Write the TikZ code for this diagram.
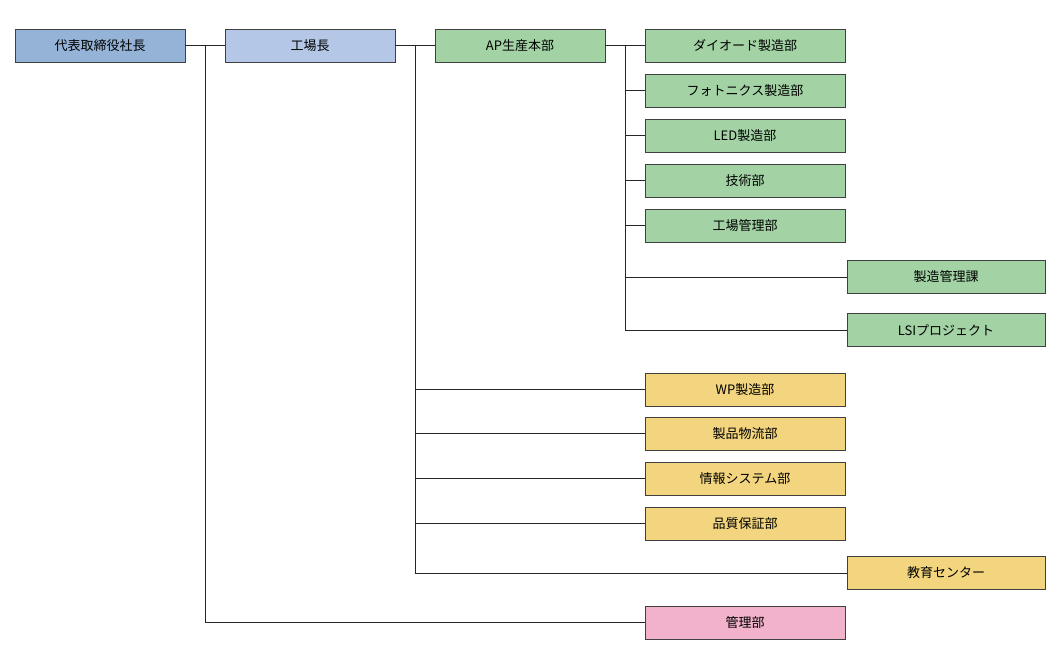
\documentclass[tikz,border=0pt]{standalone}
\usepackage{fontspec}
\setmainfont{Noto Sans CJK JP}
\definecolor{cblue}{HTML}{95B3D7}
\definecolor{clblue}{HTML}{B4C7E7}
\definecolor{cgreen}{HTML}{A3D3A4}
\definecolor{cyellow}{HTML}{F2D57E}
\definecolor{cpink}{HTML}{F2B2CB}
\begin{document}
\begin{tikzpicture}[x=1pt,y=-1pt,
  bx/.style={draw=black!75,line width=0.8pt,minimum height=33pt,inner sep=0pt,font=\fontsize{13}{15}\selectfont},
  nw/.style={bx,minimum width=170pt},
  ww/.style={bx,minimum width=200pt},
  ln/.style={line width=0.7pt,black!85}]
\useasboundingbox (0,0) rectangle (1060,670);
\node[nw,fill=cblue] (ceo) at (100,45.5) {代表取締役社長};
\node[nw,fill=clblue] (fm) at (310,45.5) {工場長};
\node[nw,fill=cgreen] (ap) at (520,45.5) {AP生産本部};
\node[ww,fill=cgreen] (g1) at (745,45.5) {ダイオード製造部};
\node[ww,fill=cgreen] (g2) at (745,90.5) {フォトニクス製造部};
\node[ww,fill=cgreen] (g3) at (745,135.5) {LED製造部};
\node[ww,fill=cgreen] (g4) at (745,180.5) {技術部};
\node[ww,fill=cgreen] (g5) at (745,225.5) {工場管理部};
\node[bx,minimum width=198pt,fill=cgreen] (g6) at (946,277) {製造管理課};
\node[bx,minimum width=198pt,fill=cgreen] (g7) at (946,330) {LSIプロジェクト};
\node[ww,fill=cyellow] (y1) at (745,389.5) {WP製造部};
\node[ww,fill=cyellow] (y2) at (745,433.5) {製品物流部};
\node[ww,fill=cyellow] (y3) at (745,478.5) {情報システム部};
\node[ww,fill=cyellow] (y4) at (745,523.5) {品質保証部};
\node[bx,minimum width=198pt,fill=cyellow] (y5) at (946,573) {教育センター};
\node[ww,fill=cpink] (p1) at (745,622.5) {管理部};
\coordinate (a) at (205,45.5);
\coordinate (b) at (415,45.5);
\coordinate (c) at (625,45.5);
\draw[ln] (ceo.east) -- (fm.west);
\draw[ln] (a) |- (p1.west);
\draw[ln] (fm.east) -- (ap.west);
\draw[ln] (b) |- (y5.west);
\foreach \n in {y1,y2,y3,y4} \draw[ln] (b |- \n.west) -- (\n.west);
\draw[ln] (ap.east) -- (g1.west);
\draw[ln] (c) |- (g7.west);
\foreach \n in {g2,g3,g4,g5,g6} \draw[ln] (c |- \n.west) -- (\n.west);
\end{tikzpicture}
\end{document}
